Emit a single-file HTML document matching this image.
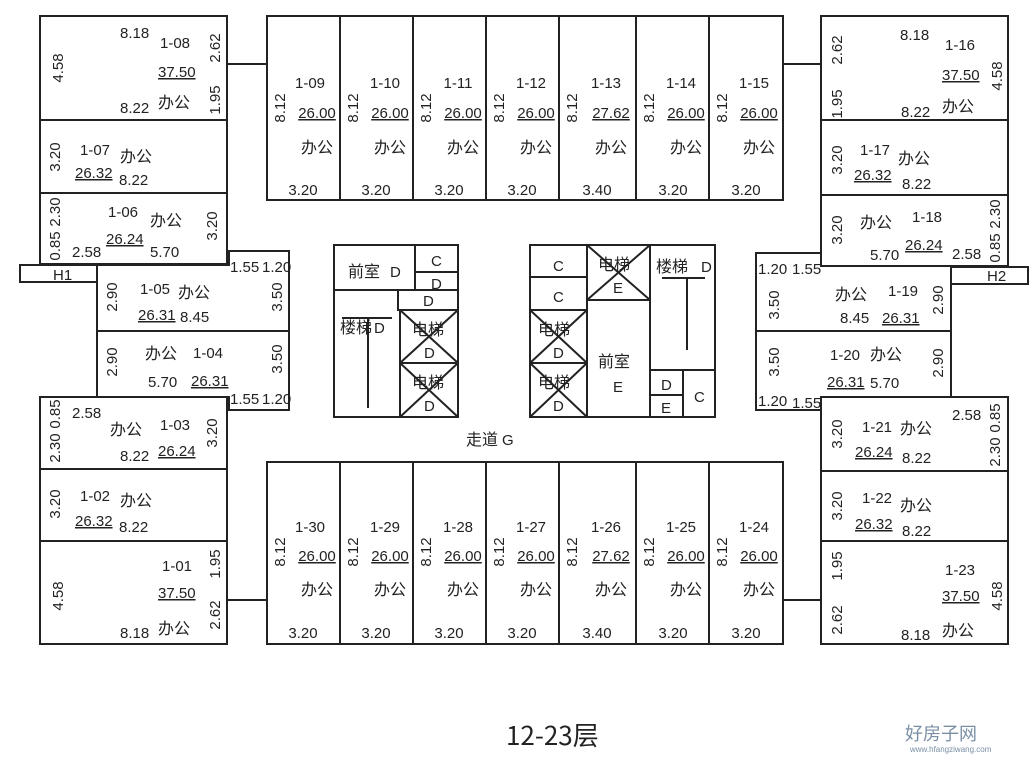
<!DOCTYPE html>
<html><head><meta charset="utf-8"><style>
body{margin:0;background:#fff}
svg text{font-family:"Liberation Sans Narrow","Liberation Sans","Noto Sans CJK SC",sans-serif;font-size:15px;fill:#222}
.c{font-family:"Noto Sans CJK SC",sans-serif;font-size:16px}
</style></head><body>
<svg width="1033" height="759" viewBox="0 0 1033 759" xmlns="http://www.w3.org/2000/svg">
<g fill="none" stroke="#222" stroke-width="2">
<rect x="40" y="16" width="187" height="104"/>
<rect x="40" y="120" width="187" height="73"/>
<rect x="40" y="193" width="187" height="71"/>
<rect x="20" y="265" width="77" height="17"/>
<path d="M97 265 H229 V251 H289 V331 H97 Z"/>
<path d="M97 331 H289 V410 H229 V397 H97 Z"/>
<rect x="40" y="397" width="187" height="72"/>
<rect x="40" y="469" width="187" height="72"/>
<rect x="40" y="541" width="187" height="103"/>
<line x1="227" y1="64" x2="267" y2="64"/>
<line x1="227" y1="600" x2="267" y2="600"/>
<rect x="821" y="16" width="187" height="104"/>
<rect x="821" y="120" width="187" height="75"/>
<rect x="821" y="195" width="187" height="71"/>
<rect x="951" y="267" width="77" height="17"/>
<path d="M951 266 H821 V253 H756 V331 H951 Z"/>
<path d="M951 331 H756 V410 H821 V397 H951 Z"/>
<rect x="821" y="397" width="187" height="74"/>
<rect x="821" y="471" width="187" height="70"/>
<rect x="821" y="541" width="187" height="103"/>
<line x1="783" y1="64" x2="821" y2="64"/>
<line x1="783" y1="600" x2="821" y2="600"/>
<rect x="267" y="16" width="516" height="184"/>
<rect x="267" y="462" width="516" height="182"/>
<path d="M340 16V200M413 16V200M486 16V200M559 16V200M636 16V200M709 16V200"/>
<path d="M340 462V644M413 462V644M486 462V644M559 462V644M636 462V644M709 462V644"/>
<rect x="334" y="245" width="124" height="172"/>
<path d="M334 290H458M415 245V290M415 272H458M398 290V310H458M400 310V417M400 310H458M400 363H458"/>
<path d="M400 310L458 363M458 310L400 363M400 363L458 417M458 363L400 417"/>
<path d="M368 318V408M342 318H392"/>
<rect x="530" y="245" width="185" height="172"/>
<path d="M587 245V417M530 277H587M530 310H587M530 363H587M587 300H650M650 245V417M650 370H715M683 370V417M650 395H683"/>
<path d="M587 245L650 300M650 245L587 300M530 310L587 363M587 310L530 363M530 363L587 417M587 363L530 417"/>
<path d="M687 278V350M662 278H705"/>
</g>
<g>
<g text-anchor="middle">
<text x="310" y="88">1-09</text><text x="317" y="118" text-decoration="underline">26.00</text><text class="c" x="317" y="153">办公</text><text x="303" y="195">3.20</text>
<text x="385" y="88">1-10</text><text x="390" y="118" text-decoration="underline">26.00</text><text class="c" x="390" y="153">办公</text><text x="376" y="195">3.20</text>
<text x="458" y="88">1-11</text><text x="463" y="118" text-decoration="underline">26.00</text><text class="c" x="463" y="153">办公</text><text x="449" y="195">3.20</text>
<text x="531" y="88">1-12</text><text x="536" y="118" text-decoration="underline">26.00</text><text class="c" x="536" y="153">办公</text><text x="522" y="195">3.20</text>
<text x="606" y="88">1-13</text><text x="611" y="118" text-decoration="underline">27.62</text><text class="c" x="611" y="153">办公</text><text x="597" y="195">3.40</text>
<text x="681" y="88">1-14</text><text x="686" y="118" text-decoration="underline">26.00</text><text class="c" x="686" y="153">办公</text><text x="673" y="195">3.20</text>
<text x="754" y="88">1-15</text><text x="759" y="118" text-decoration="underline">26.00</text><text class="c" x="759" y="153">办公</text><text x="746" y="195">3.20</text>
<text x="310" y="532">1-30</text><text x="317" y="561" text-decoration="underline">26.00</text><text class="c" x="317" y="595">办公</text><text x="303" y="638">3.20</text>
<text x="385" y="532">1-29</text><text x="390" y="561" text-decoration="underline">26.00</text><text class="c" x="390" y="595">办公</text><text x="376" y="638">3.20</text>
<text x="458" y="532">1-28</text><text x="463" y="561" text-decoration="underline">26.00</text><text class="c" x="463" y="595">办公</text><text x="449" y="638">3.20</text>
<text x="531" y="532">1-27</text><text x="536" y="561" text-decoration="underline">26.00</text><text class="c" x="536" y="595">办公</text><text x="522" y="638">3.20</text>
<text x="606" y="532">1-26</text><text x="611" y="561" text-decoration="underline">27.62</text><text class="c" x="611" y="595">办公</text><text x="597" y="638">3.40</text>
<text x="681" y="532">1-25</text><text x="686" y="561" text-decoration="underline">26.00</text><text class="c" x="686" y="595">办公</text><text x="673" y="638">3.20</text>
<text x="754" y="532">1-24</text><text x="759" y="561" text-decoration="underline">26.00</text><text class="c" x="759" y="595">办公</text><text x="746" y="638">3.20</text>
</g>
<g text-anchor="middle">
<text transform="translate(285,108) rotate(-90)">8.12</text>
<text transform="translate(358,108) rotate(-90)">8.12</text>
<text transform="translate(431,108) rotate(-90)">8.12</text>
<text transform="translate(504,108) rotate(-90)">8.12</text>
<text transform="translate(577,108) rotate(-90)">8.12</text>
<text transform="translate(654,108) rotate(-90)">8.12</text>
<text transform="translate(727,108) rotate(-90)">8.12</text>
<text transform="translate(285,552) rotate(-90)">8.12</text>
<text transform="translate(358,552) rotate(-90)">8.12</text>
<text transform="translate(431,552) rotate(-90)">8.12</text>
<text transform="translate(504,552) rotate(-90)">8.12</text>
<text transform="translate(577,552) rotate(-90)">8.12</text>
<text transform="translate(654,552) rotate(-90)">8.12</text>
<text transform="translate(727,552) rotate(-90)">8.12</text>
<text transform="translate(63,68) rotate(-90)">4.58</text>
<text transform="translate(220,48) rotate(-90)">2.62</text>
<text transform="translate(220,100) rotate(-90)">1.95</text>
<text transform="translate(60,157) rotate(-90)">3.20</text>
<text transform="translate(60,212) rotate(-90)">2.30</text>
<text transform="translate(60,246) rotate(-90)">0.85</text>
<text transform="translate(217,226) rotate(-90)">3.20</text>
<text transform="translate(117,297) rotate(-90)">2.90</text>
<text transform="translate(282,297) rotate(-90)">3.50</text>
<text transform="translate(117,362) rotate(-90)">2.90</text>
<text transform="translate(282,359) rotate(-90)">3.50</text>
<text transform="translate(60,414) rotate(-90)">0.85</text>
<text transform="translate(60,448) rotate(-90)">2.30</text>
<text transform="translate(217,433) rotate(-90)">3.20</text>
<text transform="translate(60,504) rotate(-90)">3.20</text>
<text transform="translate(220,564) rotate(-90)">1.95</text>
<text transform="translate(63,596) rotate(-90)">4.58</text>
<text transform="translate(220,615) rotate(-90)">2.62</text>
<text transform="translate(842,50) rotate(-90)">2.62</text>
<text transform="translate(842,104) rotate(-90)">1.95</text>
<text transform="translate(1002,76) rotate(-90)">4.58</text>
<text transform="translate(842,160) rotate(-90)">3.20</text>
<text transform="translate(842,230) rotate(-90)">3.20</text>
<text transform="translate(1000,214) rotate(-90)">2.30</text>
<text transform="translate(1000,248) rotate(-90)">0.85</text>
<text transform="translate(779,305) rotate(-90)">3.50</text>
<text transform="translate(943,300) rotate(-90)">2.90</text>
<text transform="translate(779,362) rotate(-90)">3.50</text>
<text transform="translate(943,363) rotate(-90)">2.90</text>
<text transform="translate(842,434) rotate(-90)">3.20</text>
<text transform="translate(1000,418) rotate(-90)">0.85</text>
<text transform="translate(1000,452) rotate(-90)">2.30</text>
<text transform="translate(842,506) rotate(-90)">3.20</text>
<text transform="translate(842,566) rotate(-90)">1.95</text>
<text transform="translate(842,620) rotate(-90)">2.62</text>
<text transform="translate(1002,596) rotate(-90)">4.58</text>
</g>
<text x="120" y="38">8.18</text><text x="160" y="48">1-08</text><text x="158" y="77" text-decoration="underline">37.50</text><text x="120" y="113">8.22</text><text class="c" x="158" y="108">办公</text>
<text x="80" y="155">1-07</text><text x="75" y="178" text-decoration="underline">26.32</text><text class="c" x="120" y="162">办公</text><text x="119" y="185">8.22</text>
<text x="108" y="217">1-06</text><text x="106" y="244" text-decoration="underline">26.24</text><text class="c" x="150" y="226">办公</text><text x="72" y="257">2.58</text><text x="150" y="257">5.70</text>
<text x="53" y="280">H1</text><text x="230" y="272">1.55</text><text x="262" y="272">1.20</text>
<text x="140" y="294">1-05</text><text x="138" y="320" text-decoration="underline">26.31</text><text class="c" x="178" y="298">办公</text><text x="180" y="322">8.45</text>
<text class="c" x="145" y="359">办公</text><text x="193" y="358">1-04</text><text x="148" y="387">5.70</text><text x="191" y="386" text-decoration="underline">26.31</text>
<text x="230" y="404">1.55</text><text x="262" y="404">1.20</text>
<text x="72" y="418">2.58</text><text x="160" y="430">1-03</text><text class="c" x="110" y="435">办公</text><text x="120" y="461">8.22</text><text x="158" y="456" text-decoration="underline">26.24</text>
<text x="80" y="501">1-02</text><text x="75" y="526" text-decoration="underline">26.32</text><text class="c" x="120" y="506">办公</text><text x="119" y="532">8.22</text>
<text x="162" y="571">1-01</text><text x="158" y="598" text-decoration="underline">37.50</text><text x="120" y="638">8.18</text><text class="c" x="158" y="634">办公</text>
<text x="900" y="40">8.18</text><text x="945" y="50">1-16</text><text x="942" y="80" text-decoration="underline">37.50</text><text x="901" y="117">8.22</text><text class="c" x="942" y="112">办公</text>
<text x="860" y="155">1-17</text><text x="854" y="180" text-decoration="underline">26.32</text><text class="c" x="898" y="164">办公</text><text x="902" y="189">8.22</text>
<text class="c" x="860" y="228">办公</text><text x="912" y="222">1-18</text><text x="870" y="260">5.70</text><text x="905" y="250" text-decoration="underline">26.24</text><text x="952" y="259">2.58</text>
<text x="987" y="281">H2</text><text x="758" y="274">1.20</text><text x="792" y="274">1.55</text>
<text class="c" x="835" y="300">办公</text><text x="888" y="296">1-19</text><text x="840" y="323">8.45</text><text x="882" y="323" text-decoration="underline">26.31</text>
<text x="830" y="360">1-20</text><text class="c" x="870" y="360">办公</text><text x="827" y="387" text-decoration="underline">26.31</text><text x="870" y="388">5.70</text>
<text x="758" y="406">1.20</text><text x="792" y="408">1.55</text>
<text x="952" y="420">2.58</text><text x="862" y="432">1-21</text><text class="c" x="900" y="434">办公</text><text x="855" y="457" text-decoration="underline">26.24</text><text x="902" y="463">8.22</text>
<text x="862" y="503">1-22</text><text x="855" y="529" text-decoration="underline">26.32</text><text class="c" x="900" y="511">办公</text><text x="902" y="536">8.22</text>
<text x="945" y="575">1-23</text><text x="942" y="601" text-decoration="underline">37.50</text><text x="901" y="640">8.18</text><text class="c" x="942" y="636">办公</text>
<text class="c" x="348" y="277">前室</text><text x="390" y="277">D</text>
<text x="431" y="266">C</text><text x="431" y="289">D</text><text x="423" y="306">D</text>
<text class="c" x="340" y="333">楼梯</text><text x="374" y="333">D</text>
<text class="c" x="412" y="335">电梯</text><text x="424" y="358">D</text>
<text class="c" x="412" y="388">电梯</text><text x="424" y="411">D</text>
<text x="553" y="271">C</text><text x="553" y="302">C</text>
<text class="c" x="598" y="270">电梯</text><text x="613" y="293">E</text>
<text class="c" x="656" y="272">楼梯</text><text x="701" y="272">D</text>
<text class="c" x="538" y="335">电梯</text><text x="553" y="358">D</text>
<text class="c" x="538" y="388">电梯</text><text x="553" y="411">D</text>
<text class="c" x="598" y="367">前室</text><text x="613" y="392">E</text>
<text x="661" y="390">D</text><text x="661" y="413">E</text><text x="694" y="402">C</text>
<text class="c" x="466" y="445">走道</text><text x="502" y="445">G</text>
<text x="506" y="745" style="font-size:26px" class="c">12-23层</text>
<text x="905" y="740" style="font-size:18px;fill:#7a8fa6" class="c">好房子网</text>
<text x="910" y="752" style="font-size:8px;fill:#7a8fa6">www.hfangziwang.com</text>
</g>
</svg>
</body></html>
